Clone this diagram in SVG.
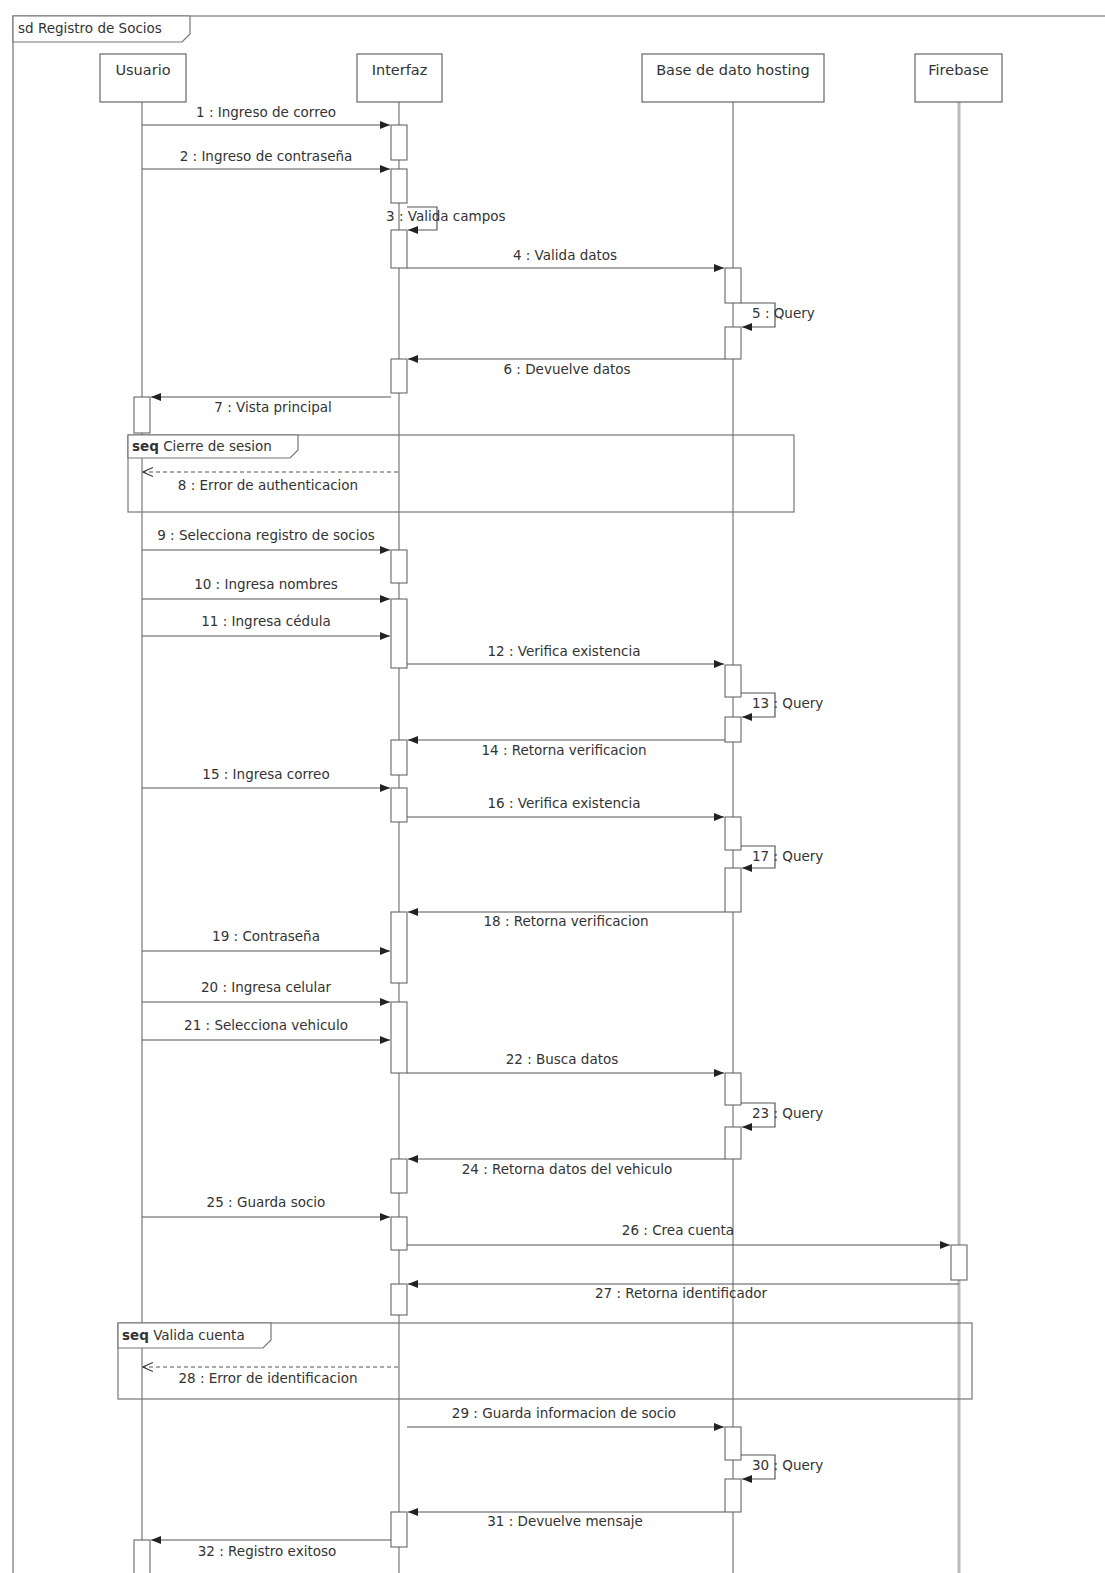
<svg xmlns="http://www.w3.org/2000/svg" width="1105" height="1573" viewBox="0 0 1105 1573">
<style>
text{font-family:"DejaVu Sans","Liberation Sans",Arial,sans-serif;font-size:13.5px;fill:#333}
.lbl{text-anchor:middle}
.hd{font-size:14.5px}
.box{fill:#fff;stroke:#666;stroke-width:1.2}
.life{stroke:#777;stroke-width:1.2}
.act{fill:#fff;stroke:#666;stroke-width:1.1}
.msg{fill:none;stroke:#555;stroke-width:1.2;marker-end:url(#ah)}
.ret{fill:none;stroke:#555;stroke-width:1;stroke-dasharray:4 3;marker-end:url(#oh)}
.frag{fill:none;stroke:#777;stroke-width:1.2}
.tab{fill:#fff;stroke:#777;stroke-width:1.2}
</style>
<defs>
<marker id="ah" markerUnits="userSpaceOnUse" markerWidth="11" markerHeight="9" refX="10" refY="4" orient="auto"><path d="M0,0 L10,4 L0,8 z" fill="#222"/></marker>
<marker id="oh" markerUnits="userSpaceOnUse" markerWidth="11" markerHeight="10" refX="10" refY="4.5" orient="auto"><path d="M0,0 L10,4.5 L0,9" fill="none" stroke="#333" stroke-width="1.1"/></marker>
</defs>
<rect width="1105" height="1573" fill="#fff"/>
<g id="frame">
<rect x="13" y="16" width="1100" height="1570" class="frag"/>
<path d="M13,16 H190 V34 L182,42 H13 z" class="tab"/>
<text x="18" y="33">sd Registro de Socios</text>
</g>
<g id="usuario">
<line x1="142" y1="102" x2="142" y2="1573" class="life"/>
<rect x="100" y="54" width="86" height="48" class="box"/>
<text x="143" y="75" class="lbl hd">Usuario</text>
<rect x="134" y="397" width="16" height="36" class="act"/>
<rect x="134" y="1540" width="16" height="40" class="act"/>
</g>
<g id="interfaz">
<line x1="399" y1="102" x2="399" y2="1573" class="life"/>
<rect x="357" y="54" width="85" height="48" class="box"/>
<text x="399.5" y="75" class="lbl hd">Interfaz</text>
<rect x="391" y="125" width="16" height="35" class="act"/>
<rect x="391" y="169" width="16" height="34" class="act"/>
<rect x="391" y="230" width="16" height="38" class="act"/>
<rect x="391" y="359" width="16" height="34" class="act"/>
<rect x="391" y="550" width="16" height="33" class="act"/>
<rect x="391" y="599" width="16" height="69" class="act"/>
<rect x="391" y="740" width="16" height="35" class="act"/>
<rect x="391" y="788" width="16" height="34" class="act"/>
<rect x="391" y="912" width="16" height="71" class="act"/>
<rect x="391" y="1002" width="16" height="71" class="act"/>
<rect x="391" y="1159" width="16" height="34" class="act"/>
<rect x="391" y="1217" width="16" height="33" class="act"/>
<rect x="391" y="1284" width="16" height="31" class="act"/>
<rect x="391" y="1512" width="16" height="35" class="act"/>
</g>
<g id="base">
<line x1="733" y1="102" x2="733" y2="1573" class="life"/>
<rect x="642" y="54" width="182" height="48" class="box"/>
<text x="733" y="75" class="lbl hd">Base de dato hosting</text>
<rect x="725" y="268" width="16" height="35" class="act"/>
<rect x="725" y="327" width="16" height="32" class="act"/>
<rect x="725" y="665" width="16" height="32" class="act"/>
<rect x="725" y="717" width="16" height="25" class="act"/>
<rect x="725" y="817" width="16" height="33" class="act"/>
<rect x="725" y="868" width="16" height="44" class="act"/>
<rect x="725" y="1073" width="16" height="32" class="act"/>
<rect x="725" y="1127" width="16" height="32" class="act"/>
<rect x="725" y="1427" width="16" height="33" class="act"/>
<rect x="725" y="1479" width="16" height="33" class="act"/>
</g>
<g id="firebase">
<line x1="959" y1="102" x2="959" y2="1573" stroke="#bbb" stroke-width="3"/>
<rect x="915" y="54" width="87" height="48" class="box"/>
<text x="958.5" y="75" class="lbl hd">Firebase</text>
<rect x="951" y="1245" width="16" height="35" class="act"/>
</g>
<g id="fragments">
<rect x="128" y="435" width="666" height="77" class="frag"/>
<path d="M128,435 H298 V450 L290,458 H128 z" class="tab"/>
<text x="132" y="451" font-size="12.5"><tspan font-weight="bold">seq</tspan> Cierre de sesion</text>
<rect x="118" y="1323" width="854" height="76" class="frag"/>
<path d="M118,1323 H271 V1340 L263,1348 H118 z" class="tab"/>
<text x="122" y="1340" font-size="12.5"><tspan font-weight="bold">seq</tspan> Valida cuenta</text>
</g>
<g id="connectors">
<path d="M142,125 H390" class="msg"/><text x="266" y="117" class="lbl">1 : Ingreso de correo</text>
<path d="M142,169 H390" class="msg"/><text x="266" y="161" class="lbl">2 : Ingreso de contraseña</text>
<path d="M407,207 H437 V230 H408" class="msg"/><text x="386" y="221">3 : Valida campos</text>
<path d="M407,268 H724" class="msg"/><text x="565" y="260" class="lbl">4 : Valida datos</text>
<path d="M741,303 H775 V327 H742" class="msg"/><text x="752" y="318">5 : Query</text>
<path d="M725,359 H408" class="msg"/><text x="567" y="374" class="lbl">6 : Devuelve datos</text>
<path d="M391,397 H151" class="msg"/><text x="273" y="412" class="lbl">7 : Vista principal</text>
<path d="M398,472 H143" class="ret"/><text x="268" y="490" class="lbl">8 : Error de authenticacion</text>
<path d="M142,550 H390" class="msg"/><text x="266" y="540" class="lbl">9 : Selecciona registro de socios</text>
<path d="M142,599 H390" class="msg"/><text x="266" y="589" class="lbl">10 : Ingresa nombres</text>
<path d="M142,636 H390" class="msg"/><text x="266" y="626" class="lbl">11 : Ingresa cédula</text>
<path d="M407,664 H724" class="msg"/><text x="564" y="656" class="lbl">12 : Verifica existencia</text>
<path d="M741,693 H775 V717 H742" class="msg"/><text x="752" y="708">13 : Query</text>
<path d="M725,740 H408" class="msg"/><text x="564" y="755" class="lbl">14 : Retorna verificacion</text>
<path d="M142,788 H390" class="msg"/><text x="266" y="779" class="lbl">15 : Ingresa correo</text>
<path d="M407,817 H724" class="msg"/><text x="564" y="808" class="lbl">16 : Verifica existencia</text>
<path d="M741,846 H775 V868 H742" class="msg"/><text x="752" y="861">17 : Query</text>
<path d="M725,912 H408" class="msg"/><text x="566" y="926" class="lbl">18 : Retorna verificacion</text>
<path d="M142,951 H390" class="msg"/><text x="266" y="941" class="lbl">19 : Contraseña</text>
<path d="M142,1002 H390" class="msg"/><text x="266" y="992" class="lbl">20 : Ingresa celular</text>
<path d="M142,1040 H390" class="msg"/><text x="266" y="1030" class="lbl">21 : Selecciona vehiculo</text>
<path d="M407,1073 H724" class="msg"/><text x="562" y="1064" class="lbl">22 : Busca datos</text>
<path d="M741,1103 H775 V1127 H742" class="msg"/><text x="752" y="1118">23 : Query</text>
<path d="M725,1159 H408" class="msg"/><text x="567" y="1174" class="lbl">24 : Retorna datos del vehiculo</text>
<path d="M142,1217 H390" class="msg"/><text x="266" y="1207" class="lbl">25 : Guarda socio</text>
<path d="M407,1245 H950" class="msg"/><text x="678" y="1235" class="lbl">26 : Crea cuenta</text>
<path d="M959,1284 H408" class="msg"/><text x="681" y="1298" class="lbl">27 : Retorna identificador</text>
<path d="M398,1367 H143" class="ret"/><text x="268" y="1383" class="lbl">28 : Error de identificacion</text>
<path d="M407,1427 H724" class="msg"/><text x="564" y="1418" class="lbl">29 : Guarda informacion de socio</text>
<path d="M741,1455 H775 V1479 H742" class="msg"/><text x="752" y="1470">30 : Query</text>
<path d="M725,1512 H408" class="msg"/><text x="565" y="1526" class="lbl">31 : Devuelve mensaje</text>
<path d="M391,1540 H151" class="msg"/><text x="267" y="1556" class="lbl">32 : Registro exitoso</text>
</g>
</svg>
